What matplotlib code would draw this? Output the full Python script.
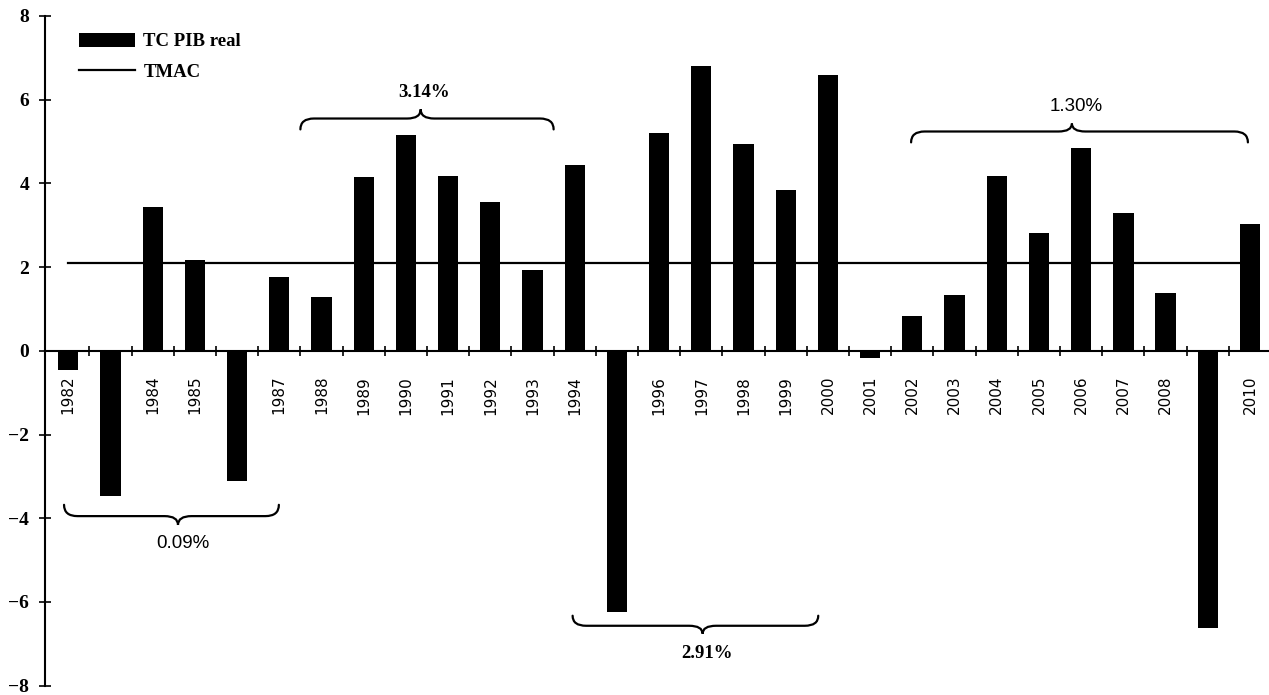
import matplotlib
matplotlib.use('Agg')
import matplotlib.pyplot as plt
import numpy as np
from matplotlib.path import Path
from matplotlib.patches import PathPatch

# data
years = list(range(1982, 2011))
gdp_growth = [-0.45, -3.48, 3.44, 2.17, -3.10, 1.76, 1.29, 4.15, 5.16, 4.18,
              3.55, 1.93, 4.44, -6.24, 5.20, 6.80, 4.95, 3.85, 6.60, -0.17,
              0.84, 1.34, 4.18, 2.82, 4.84, 3.29, 1.38, -6.63, 3.03]
tmac = 2.1
hidden_years = [1983, 1986, 1995, 2009]

# braces: label, x0, x1, tip x, curl end y, line y, tip y, label x, label y, font
brace_labels = ['3.14%', '0.09%', '2.91%', '1.30%']
brace_x0 = [5.5, -0.1, 11.95, 19.97]
brace_x1 = [11.5, 4.99, 17.77, 27.95]
brace_xtip = [8.35, 2.6, 15.03, 23.78]
brace_yend = [5.29, -3.68, -6.33, 4.98]
brace_yline = [5.55, -3.95, -6.57, 5.24]
brace_ytip = [5.77, -4.16, -6.76, 5.43]
brace_lx = [8.42, 2.71, 15.13, 23.88]
brace_ly = [6.17, -4.61, -7.24, 5.84]
brace_font = ['Liberation Serif', 'Liberation Sans', 'Liberation Serif', 'Liberation Sans']
brace_weight = ['bold', 'normal', 'bold', 'normal']


def draw_brace(ax, x0, x1, xt, yend, yline, ytip, r=0.32):
    verts = [(x0, yend), (x0, yline), (x0 + r, yline),
             (xt - r, yline), (xt, yline), (xt, ytip),
             (xt, yline), (xt + r, yline),
             (x1 - r, yline), (x1, yline), (x1, yend)]
    codes = [Path.MOVETO, Path.CURVE3, Path.CURVE3,
             Path.LINETO, Path.CURVE3, Path.CURVE3,
             Path.CURVE3, Path.CURVE3,
             Path.LINETO, Path.CURVE3, Path.CURVE3]
    ax.add_patch(PathPatch(Path(verts, codes), fill=False, lw=1.6,
                           edgecolor='black', capstyle='round'))


fig = plt.figure(figsize=(12.69, 6.95), dpi=100)
ax = fig.add_axes([0.0355, 0.0135, 0.9645, 0.9635])

x = np.arange(len(years))
bars = ax.bar(x, gdp_growth, width=0.48, color='black', label='TC PIB real')
line, = ax.plot([x[0], x[-1]], [tmac, tmac], color='black', lw=1.6, label='TMAC')

for i in range(len(brace_labels)):
    draw_brace(ax, brace_x0[i], brace_x1[i], brace_xtip[i],
               brace_yend[i], brace_yline[i], brace_ytip[i])
    ax.text(brace_lx[i], brace_ly[i], brace_labels[i], ha='center', va='center',
            fontsize=13.5, family=brace_font[i], fontweight=brace_weight[i])

ax.set_xlim(-0.55, 28.45)
ax.set_ylim(-8, 8)

# spines
for s in ['top', 'right']:
    ax.spines[s].set_visible(False)
ax.spines['bottom'].set_position(('data', 0))
ax.spines['bottom'].set_linewidth(1.5)
ax.spines['left'].set_linewidth(1.5)

# x ticks: labels at centres, marks between categories
ax.set_xticks(x)
ax.set_xticklabels(['' if y in hidden_years else str(y) for y in years],
                   rotation=90, fontsize=11, family='DejaVu Sans')
ax.tick_params(axis='x', which='major', length=0, pad=18)
ax.set_xticks(x[:-1] + 0.5, minor=True)
ax.tick_params(axis='x', which='minor', direction='inout', length=7, width=1.2)

# y ticks
ax.set_yticks(np.arange(-8, 9, 2))
ax.set_yticklabels([str(v).replace('-', '\u2212') for v in range(-8, 9, 2)],
                   fontsize=14, fontweight='bold', family='Liberation Serif')
ax.tick_params(axis='y', direction='inout', length=9, width=1.2, pad=7)

ax.legend(handles=[bars, line], loc='upper left', bbox_to_anchor=(0.0275, 0.975),
          frameon=False, borderpad=0, borderaxespad=0, handlelength=3.0,
          handleheight=0.8, handletextpad=0.45, labelspacing=0.7,
          prop={'family': 'Liberation Serif', 'weight': 'bold', 'size': 13.5})

fig.savefig('out.png', dpi=100)
